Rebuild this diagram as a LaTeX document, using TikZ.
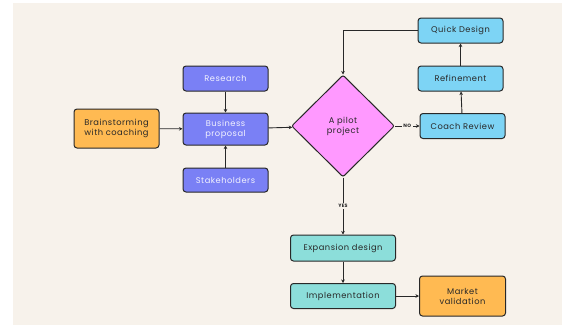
\documentclass[tikz,border=0pt]{standalone}
\usepackage{fontspec}
\setmainfont{Poppins}[LetterSpace=6]
\usetikzlibrary{shapes.geometric,arrows.meta}
\definecolor{paper}{RGB}{247,242,235}
\definecolor{edge}{RGB}{40,40,40}
\definecolor{violetbox}{RGB}{122,128,245}
\definecolor{orangebox}{RGB}{255,186,82}
\definecolor{pinkbox}{RGB}{255,153,255}
\definecolor{skybox}{RGB}{125,212,245}
\definecolor{tealbox}{RGB}{140,222,218}
\begin{document}
\begin{tikzpicture}[x=1pt,y=-1pt,font=\fontsize{8.3}{10}\selectfont,
		box/.style={draw=edge,line width=1pt,rounded corners=3pt,align=center,inner sep=0pt,text=edge,minimum width=85pt,minimum height=25pt},
		planbox/.style={box,fill=violetbox,text=white!90!violetbox},
		ideabox/.style={box,fill=orangebox},
		loopbox/.style={box,fill=skybox},
		growbox/.style={box,fill=tealbox,minimum width=105pt},
		choice/.style={shape=diamond,draw=edge,line width=1pt,rounded corners=2pt,fill=pinkbox,text=edge,align=center,inner sep=0pt,minimum width=103pt,minimum height=102pt},
		link/.style={draw=edge,line width=0.9pt,-{Stealth[length=3.5pt,width=3.5pt]}},
		tag/.style={fill=paper,inner sep=1.5pt,font=\fontsize{4.8}{5}\selectfont\bfseries,text=edge}]
	% frame
	\useasboundingbox (0,0) rectangle (562,327);
	\fill[paper] (13,3) rectangle (562,325);
	% left part
	\node[ideabox,minimum height=39pt] (brain) at (116.5,128.5) {Brainstorming\\with coaching};
	\node[planbox] (research) at (225.5,78.5) {Research};
	\node[planbox,minimum height=32pt] (proposal) at (225.5,129) {Business\\proposal};
	\node[planbox,minimum height=24pt] (stake) at (225.5,180) {Stakeholders};
	% decision
	\node[choice] (pilot) at (343,126) {A pilot\\project};
	% NO branch
	\node[loopbox] (coach) at (462.5,126) {Coach Review};
	\node[loopbox] (refine) at (460.5,78.5) {Refinement};
	\node[loopbox] (quick) at (460.5,30.5) {Quick Design};
	% YES branch
	\node[growbox,minimum height=26pt] (expand) at (343,248) {Expansion design};
	\node[growbox] (impl) at (343,296) {Implementation};
	\node[ideabox,minimum width=86pt,minimum height=40pt] (market) at (462.5,296) {Market\\validation};
	% connectors
	\foreach \a/\b in {brain/proposal,research/proposal,stake/proposal,proposal/pilot,coach/refine,refine/quick,expand/impl,impl/market}
		\draw[link] (\a) -- (\b);
	\draw[link] (quick.west) -| (pilot.north);
	\draw[link] (pilot.east) -- node[tag] {NO} (coach.west);
	\draw[link] (pilot.south) -- node[tag] {YES} (expand.north);
\end{tikzpicture}
\end{document}
